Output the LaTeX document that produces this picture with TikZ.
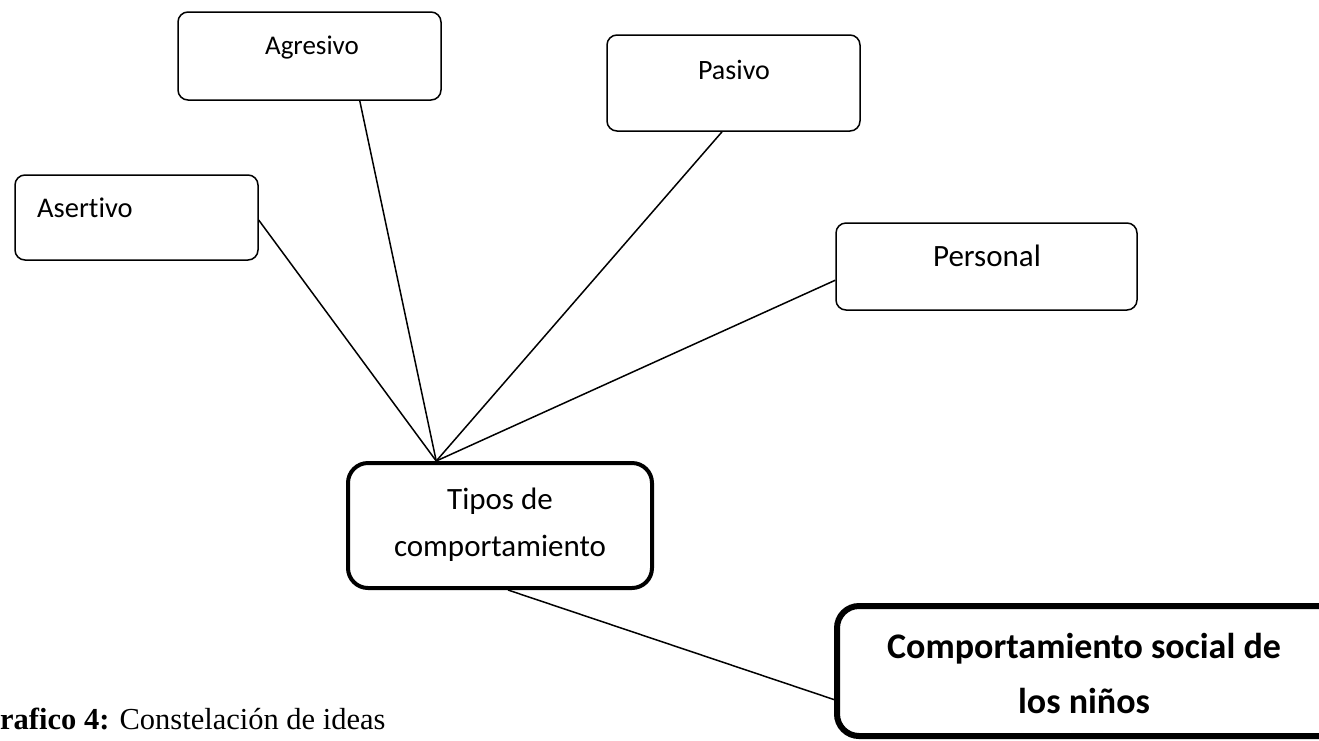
\documentclass[tikz,border=0pt]{standalone}
\usepackage{fontspec}
\setmainfont{Carlito}[Ligatures=NoCommon]
\newfontfamily\capfont{Liberation Serif}
\usetikzlibrary{calc}
\begin{document}
\begin{tikzpicture}[x=1pt,y=-1pt,
  box/.style={draw, rectangle, rounded corners=10pt, line width=1.5pt, inner sep=0pt},
  lbl/.style={inner sep=0pt, anchor=base},
  conn/.style={line width=1.5pt}]
\useasboundingbox (0,0) rectangle (1319,740);
\begin{scope}
\clip (0,0) rectangle (1319,740);
% boxes
\node[box, minimum width=263pt, minimum height=88pt] (agr) at (309.5,56) {};
\node[box, minimum width=253pt, minimum height=96pt] (pas) at (733.5,83) {};
\node[box, minimum width=243pt, minimum height=85pt] (ase) at (136.5,217.5) {};
\node[box, minimum width=301pt, minimum height=87pt] (per) at (986.5,266.5) {};
\node[box, minimum width=304pt, minimum height=125pt, line width=4pt, rounded corners=20pt] (tip) at (500,525.5) {};
\node[box, minimum width=508pt, minimum height=130pt, line width=6pt, rounded corners=22pt] (comp) at (1091,671) {};
% labels
\node[lbl, font=\fontsize{27}{27}\selectfont] (tagr) at (312,54) {Agresivo};
\node[lbl, font=\fontsize{28}{28}\selectfont] (tpas) at (734,79) {Pasivo};
\node[lbl, anchor=base west, font=\fontsize{28.5}{28.5}\selectfont] (tase) at (37,217) {Asertivo};
\node[lbl, font=\fontsize{31}{31}\selectfont] (tper) at (987,266) {Personal};
\node[lbl, font=\fontsize{31}{31}\selectfont] (ttip1) at (500,509) {Tipos de};
\node[lbl, font=\fontsize{31}{31}\selectfont] (ttip2) at (500,556) {comportamiento};
\node[lbl, font=\fontsize{36}{36}\selectfont\bfseries] (tcomp1) at (1084,658) {Comportamiento social de};
\node[lbl, font=\fontsize{36}{36}\selectfont\bfseries] (tcomp2) at (1084,713) {los niños};
\node[lbl, anchor=base west, font=\capfont\fontsize{30.5}{30.5}\selectfont] (cap) at (0,729) {\textbf{rafico 4:} Constelación de ideas};
% connectors
\coordinate (hub) at ($(tip.north west)!0.293!(tip.north east)$);
\draw[conn] ($(ase.north east)!0.53!(ase.south east)$) -- (hub);
\draw[conn] ($(agr.south west)!0.69!(agr.south east)$) -- (hub);
\draw[conn] ($(pas.south west)!0.455!(pas.south east)$) -- (hub);
\draw[conn] ($(per.north west)!0.655!(per.south west)$) -- (hub);
\draw[conn] ($(tip.south west)!0.526!(tip.south east)$) -- ($(comp.north west)!0.71!(comp.south west)$);
\end{scope}
\end{tikzpicture}
\end{document}
